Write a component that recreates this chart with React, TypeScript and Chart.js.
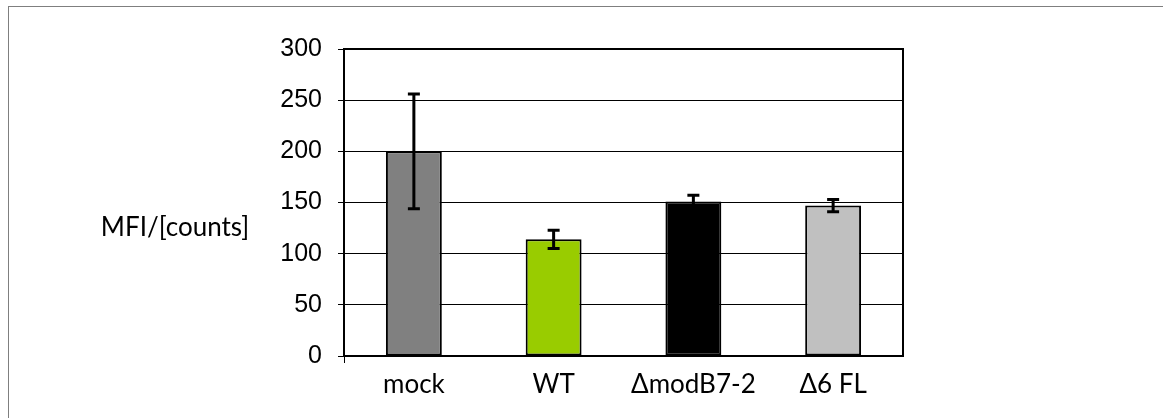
import React, { useEffect, useRef } from "react";
import { Chart, registerables } from "chart.js";

Chart.register(...registerables);

const categories = ["mock", "WT", "ΔmodB7-2", "Δ6 FL"];
const values = [200, 114, 151, 147];
const errors = [56, 9, 6, 6];
const barColors = ["#808080", "#99CC00", "#000000", "#C0C0C0"];
const yTicks = [0, 50, 100, 150, 200, 250, 300];
const yTitle = "MFI/[counts]";

const W = 1163;
const H = 418;

const framePlugin = {
  id: "frame",
  afterDatasetsDraw(chart: any) {
    const { ctx, chartArea, scales } = chart;
    const ys = scales.y;
    const meta = chart.getDatasetMeta(0);
    ctx.save();
    ctx.strokeStyle = "#000";
    ctx.lineWidth = 3;
    meta.data.forEach((bar: any, i: number) => {
      const x = bar.x;
      const yTop = ys.getPixelForValue(values[i] + errors[i]);
      const yBot = ys.getPixelForValue(values[i] - errors[i]);
      ctx.beginPath();
      ctx.moveTo(x, yTop);
      ctx.lineTo(x, yBot);
      ctx.moveTo(x - 6, yTop);
      ctx.lineTo(x + 6, yTop);
      ctx.moveTo(x - 6, yBot);
      ctx.lineTo(x + 6, yBot);
      ctx.stroke();
    });
    ctx.restore();
  },
  afterDraw(chart: any) {
    const { ctx, chartArea } = chart;
    ctx.save();
    ctx.strokeStyle = "#000";
    ctx.lineWidth = 2;
    ctx.strokeRect(
      chartArea.left,
      chartArea.top,
      chartArea.right - chartArea.left,
      chartArea.bottom - chartArea.top
    );
    ctx.lineWidth = 1;
    ctx.beginPath();
    ctx.moveTo(chartArea.left + 0.5, chartArea.bottom);
    ctx.lineTo(chartArea.left + 0.5, chartArea.bottom + 7);
    ctx.stroke();
    ctx.fillStyle = "#000";
    ctx.font = "26px Lato";
    ctx.textAlign = "center";
    ctx.textBaseline = "middle";
    ctx.fillText(yTitle, chartArea.left - 169, chartArea.top + 179);
    ctx.restore();
  },
};

export default function App() {
  const ref = useRef<HTMLCanvasElement | null>(null);

  useEffect(() => {
    document.body.style.margin = "0";
    const canvas = ref.current;
    if (!canvas) return;
    const chart = new Chart(canvas, {
      type: "bar",
      data: {
        labels: categories,
        datasets: [
          {
            data: values,
            backgroundColor: barColors,
            borderColor: "#000",
            borderWidth: 2,
            borderSkipped: false,
            categoryPercentage: 0.8,
            barPercentage: 0.5,
          },
        ],
      },
      options: {
        responsive: false,
        animation: false,
        devicePixelRatio: 1,
        layout: { padding: { left: 0, top: 49, right: 260, bottom: 0 } },
        plugins: {
          legend: { display: false },
          tooltip: { enabled: false },
          title: { display: false },
        },
        scales: {
          x: {
            offset: true,
            grid: { display: false, drawTicks: false },
            border: { display: true, color: "#000", width: 2 },
            ticks: {
              color: "#000",
              font: { family: "Lato", size: 26 },
              padding: 13,
            },
            afterFit(scale: any) {
              scale.height = 62;
            },
          },
          y: {
            min: 0,
            max: 300,
            afterBuildTicks(scale: any) {
              scale.ticks = yTicks.map((v) => ({ value: v }));
            },
            grid: {
              color: "#000",
              lineWidth: 1,
              tickLength: 6,
              drawTicks: true,
            },
            border: { display: true, color: "#000", width: 2 },
            ticks: {
              color: "#000",
              font: { family: "'Liberation Sans', Arial", size: 25 },
              padding: 16,
            },
            afterFit(scale: any) {
              scale.width = 344;
            },
          },
        },
      },
      plugins: [framePlugin],
    });
    return () => chart.destroy();
  }, []);

  return (
    <div
      style={{
        position: "relative",
        width: W,
        height: H,
        overflow: "hidden",
        background: "#fff",
      }}
    >
      <div
        style={{
          position: "absolute",
          left: 8,
          top: 6,
          width: 1300,
          height: 600,
          border: "1px solid #7f7f7f",
          boxSizing: "border-box",
        }}
      />
      <canvas
        ref={ref}
        width={W}
        height={H}
        style={{ position: "absolute", left: 0, top: 0, width: W, height: H }}
      />
    </div>
  );
}
